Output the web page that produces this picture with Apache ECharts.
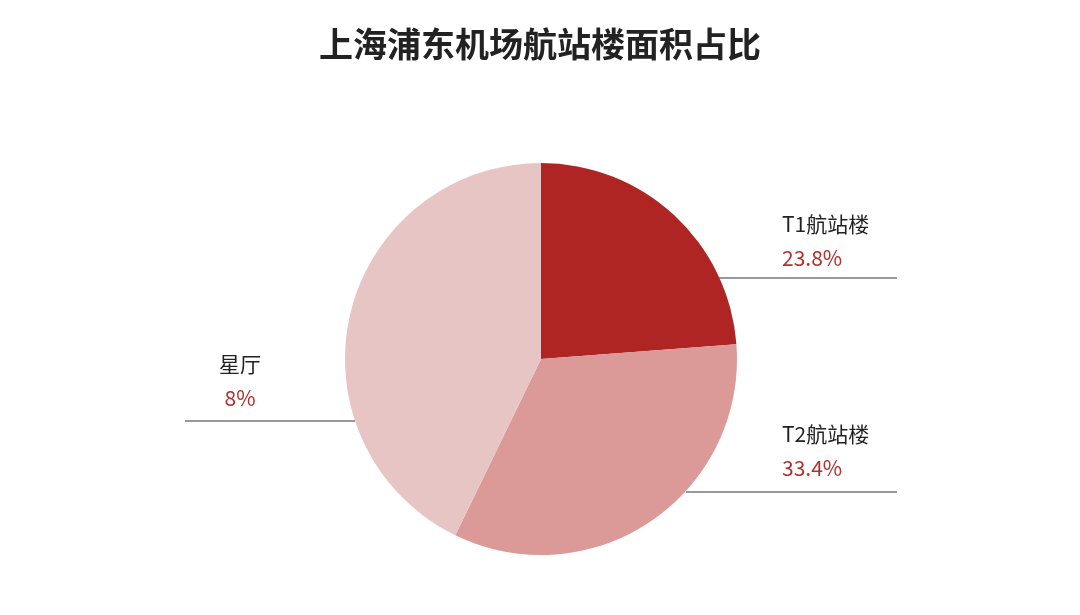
<!DOCTYPE html>
<html><head><meta charset="utf-8">
<script src="https://cdn.jsdelivr.net/npm/echarts@6/dist/echarts.min.js"></script>
<style>html,body{margin:0;padding:0;background:#fff}#c{width:1080px;height:615px}</style>
</head><body><div id="c"></div>
<script>
const categories = ['T1航站楼', 'T2航站楼', '星厅'];
const values = [23.8, 33.4, 42.8];
const labelTexts = ['23.8%', '33.4%', '8%'];
const colors = ['#ae2524', '#db9a98', '#e8c5c5'];
const labelSpots = [
  {x: 782, y: 275, align: 'left', line: [[717, 278], [897, 278]]},
  {x: 782, y: 485, align: 'left', line: [[686, 492], [897, 492]]},
  {x: 240, y: 415, align: 'center', line: [[185, 421], [355, 421]]}
];
const chart = echarts.init(document.getElementById('c'));
chart.setOption({
  title: {text: '上海浦东机场航站楼面积占比', left: 'center', top: 22,
    textStyle: {fontFamily: 'Noto Sans CJK SC', fontWeight: 'bold', fontSize: 34, color: '#222'}},
  series: [{
    type: 'pie', center: [541, 359], radius: 196, startAngle: 90, clockwise: true,
    data: categories.map((n, i) => ({name: n, value: values[i], itemStyle: {color: colors[i]}})),
    label: {show: true, position: 'outside',
      formatter: p => '{n|' + p.name + '}\n{v|' + labelTexts[p.dataIndex] + '}',
      rich: {
        n: {fontFamily: 'Noto Sans CJK SC', fontSize: 21, color: '#222', lineHeight: 34},
        v: {fontFamily: 'Noto Sans CJK SC', fontSize: 21, color: '#b0302c', lineHeight: 34}
      }},
    labelLine: {show: true, lineStyle: {color: '#333', width: 1}},
    labelLayout: p => {
      const s = labelSpots[p.dataIndex];
      return {x: s.x, y: s.y, align: s.align, verticalAlign: 'bottom', labelLinePoints: s.line};
    },
    emphasis: {disabled: true}
  }]
});
</script></body></html>
